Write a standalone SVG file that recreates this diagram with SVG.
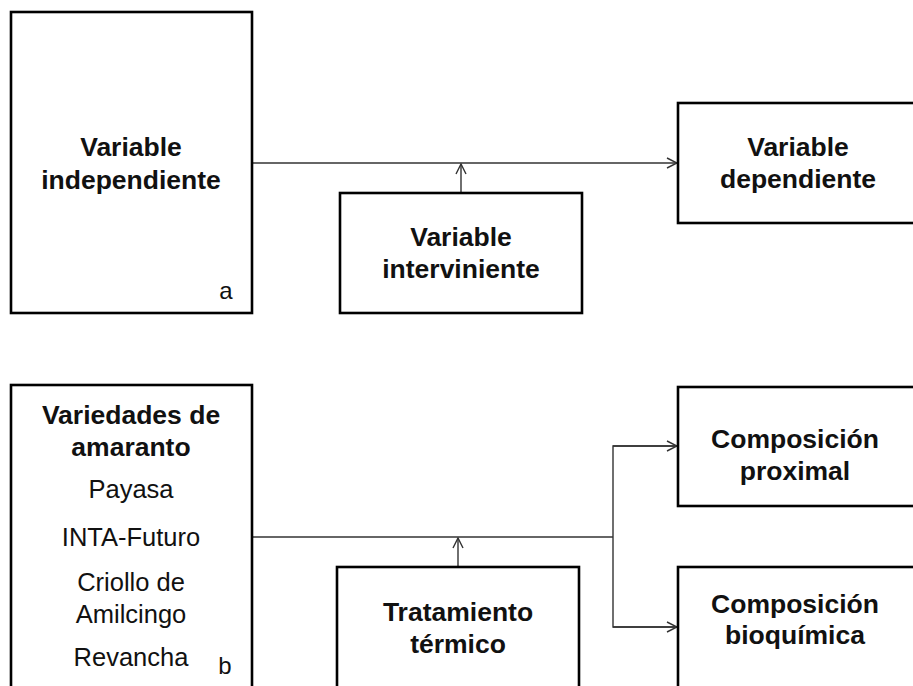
<svg xmlns="http://www.w3.org/2000/svg" width="913" height="686" viewBox="0 0 913 686">
<style>
.box{fill:#fff;stroke:#000;stroke-width:2.6}
.b{font-family:"Liberation Sans",Arial,sans-serif;font-weight:bold;font-size:26.5px;fill:#111;text-anchor:middle}
.r{font-family:"Liberation Sans",Arial,sans-serif;font-size:25.5px;fill:#111;text-anchor:middle}
.lab{font-family:"Liberation Sans",Arial,sans-serif;font-size:24px;fill:#111;text-anchor:middle}
.c{fill:none;stroke:#333;stroke-width:1.4}
</style>
<defs>
<marker id="ah" viewBox="0 0 12 12" refX="11" refY="6" markerWidth="12" markerHeight="12" markerUnits="userSpaceOnUse" orient="auto">
<path d="M1,1 L11,6 L1,11" fill="none" stroke="#333" stroke-width="1.4"/>
</marker>
</defs>
<rect width="913" height="686" fill="#fff"/>
<g id="connectors">
<line class="c" x1="252" y1="163" x2="677" y2="163" marker-end="url(#ah)"/>
<line class="c" x1="461" y1="193" x2="461" y2="164" marker-end="url(#ah)"/>
<line class="c" x1="252" y1="537" x2="613" y2="537"/>
<polyline class="c" points="677,446 613,446 613,627 677,627"/>
<line class="c" x1="613" y1="446" x2="677" y2="446" marker-end="url(#ah)"/>
<line class="c" x1="613" y1="627" x2="677" y2="627" marker-end="url(#ah)"/>
<line class="c" x1="458" y1="567" x2="458" y2="538" marker-end="url(#ah)"/>
</g>
<g id="var-independiente">
<rect class="box" x="11" y="12" width="241" height="301"/>
<text class="b" x="131" y="156">Variable</text>
<text class="b" x="131" y="189">independiente</text>
<text class="lab" x="226" y="299">a</text>
</g>
<g id="var-interviniente">
<rect class="box" x="340" y="193" width="242" height="120"/>
<text class="b" x="461" y="246">Variable</text>
<text class="b" x="461" y="278">interviniente</text>
</g>
<g id="var-dependiente">
<rect class="box" x="678" y="103" width="242" height="120"/>
<text class="b" x="798" y="156">Variable</text>
<text class="b" x="798" y="188">dependiente</text>
</g>
<g id="variedades">
<rect class="box" x="11" y="385" width="241" height="320"/>
<text class="b" x="131" y="424">Variedades de</text>
<text class="b" x="131" y="456">amaranto</text>
<text class="r" x="131" y="498">Payasa</text>
<text class="r" x="131" y="546">INTA-Futuro</text>
<text class="r" x="131" y="591">Criollo de</text>
<text class="r" x="131" y="623">Amilcingo</text>
<text class="r" x="131" y="666">Revancha</text>
<text class="lab" x="225" y="674">b</text>
</g>
<g id="tratamiento">
<rect class="box" x="337" y="567" width="242" height="140"/>
<text class="b" x="458" y="621">Tratamiento</text>
<text class="b" x="458" y="653">térmico</text>
</g>
<g id="comp-proximal">
<rect class="box" x="678" y="387" width="242" height="119"/>
<text class="b" x="795" y="448">Composición</text>
<text class="b" x="795" y="480">proximal</text>
</g>
<g id="comp-bioquimica">
<rect class="box" x="678" y="567" width="242" height="140"/>
<text class="b" x="795" y="613">Composición</text>
<text class="b" x="795" y="644">bioquímica</text>
</g>
</svg>
